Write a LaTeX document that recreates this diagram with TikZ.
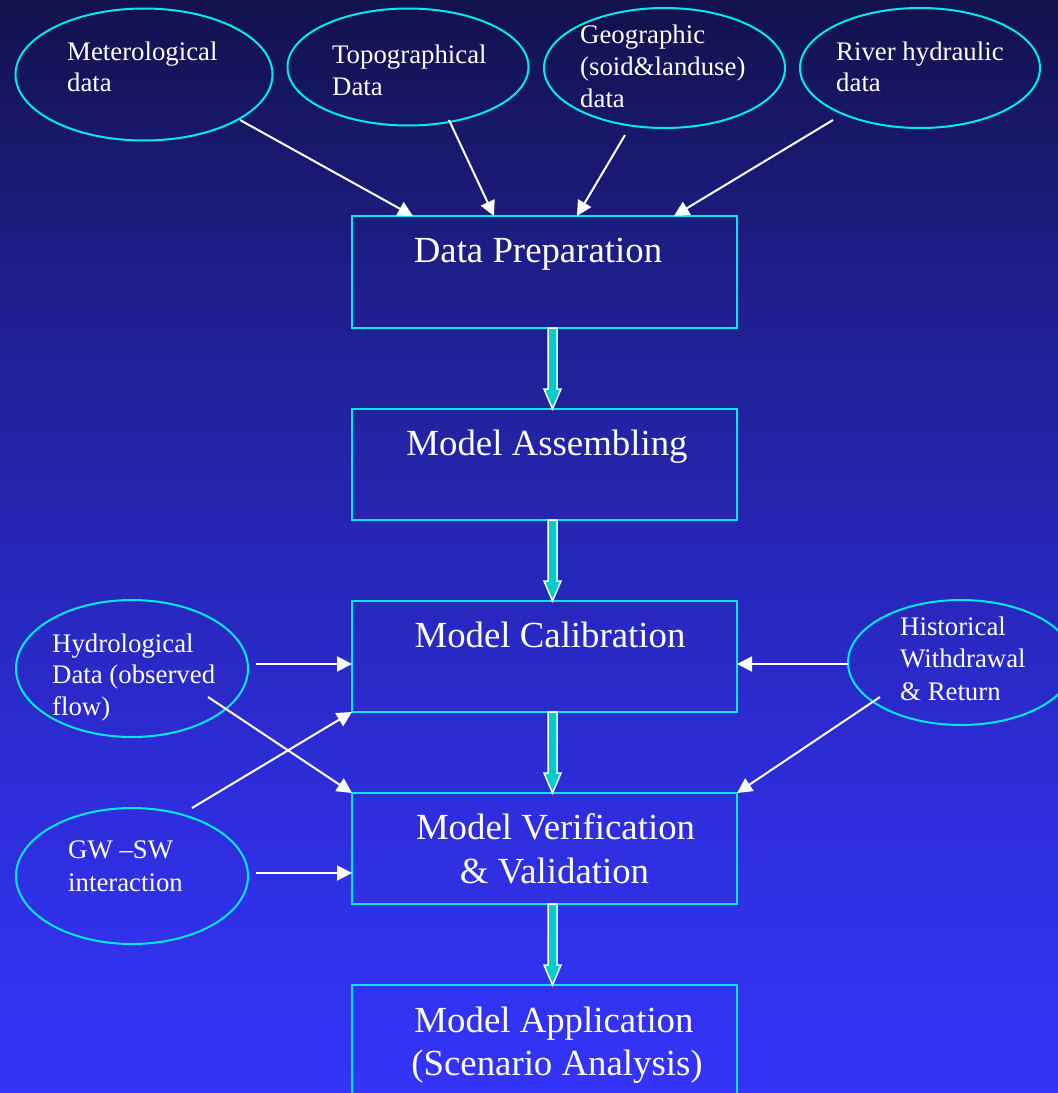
\documentclass[tikz,border=0pt]{standalone}
\usepackage{fontspec}
\setmainfont{Liberation Serif}
\usetikzlibrary{arrows.meta,shapes.geometric}
\definecolor{bgA}{RGB}{18,18,76}
\definecolor{bgB}{RGB}{30,30,138}
\definecolor{bgC}{RGB}{38,38,182}
\definecolor{bgD}{RGB}{46,46,222}
\definecolor{bgE}{RGB}{52,52,250}
\definecolor{cyanline}{RGB}{0,235,240}
\definecolor{tealfill}{RGB}{0,204,204}
\newcommand\fatarr[2]{%
  \draw[fat] ([xshift=3.5pt]#1.south) -- ([xshift=3.5pt,yshift=20pt]#2.north)
    -- ([xshift=-0.5pt,yshift=20pt]#2.north) -- ([xshift=8pt]#2.north)
    -- ([xshift=16.5pt,yshift=20pt]#2.north) -- ([xshift=12.5pt,yshift=20pt]#2.north)
    -- ([xshift=12.5pt]#1.south) -- cycle;}
\begin{document}
\begin{tikzpicture}[x=1pt,y=-1pt,
  ell/.style={ellipse, draw=cyanline, line width=2pt, inner sep=0pt, outer sep=0pt},
  stepbox/.style={rectangle, draw=cyanline, line width=2pt, minimum width=385pt, minimum height=112pt, inner sep=0pt, outer sep=0pt},
  etxt/.style={text=white, inner sep=0pt, anchor=base west, font=\fontsize{26.8}{32}\selectfont},
  btxt/.style={text=white, inner sep=0pt, anchor=base, font=\fontsize{36.8}{44}\selectfont},
  arr/.style={draw=white, line width=2pt, -{Triangle[length=15pt,width=15pt]}},
  fat/.style={fill=tealfill, draw=white, line width=1.5pt, line join=miter}]
\useasboundingbox (0,0) rectangle (1058,1093);
\clip (0,0) rectangle (1058,1093);
% background
\shade[top color=bgA, bottom color=bgB] (0,0) rectangle (1058,273.8);
\shade[top color=bgB, bottom color=bgC] (0,273.2) rectangle (1058,546.8);
\shade[top color=bgC, bottom color=bgD] (0,546.2) rectangle (1058,820.3);
\shade[top color=bgD, bottom color=bgE] (0,819.7) rectangle (1058,1093);
% ellipses
\node[ell, minimum width=257pt, minimum height=132pt] (e1) at (144,74.5) {};
\node[ell, minimum width=241pt, minimum height=117pt] (e2) at (408,67) {};
\node[ell, minimum width=241pt, minimum height=120pt] (e3) at (664.5,68) {};
\node[ell, minimum width=240pt, minimum height=120pt] (e4) at (920,68) {};
\node[ell, minimum width=232pt, minimum height=137pt] (e5) at (132,668.5) {};
\node[ell, minimum width=232pt, minimum height=136pt] (e6) at (132,876) {};
\node[ell, minimum width=226pt, minimum height=125pt] (e7) at (961,662.5) {};
% ellipse texts
\node[etxt] (t1a) at (67,60) {Meterological};
\node[etxt] (t1b) at (67,91.5) {data};
\node[etxt] (t2a) at (332,63) {Topographical};
\node[etxt] (t2b) at (332,95) {Data};
\node[etxt] (t3a) at (580,43) {Geographic};
\node[etxt] (t3b) at (580,75) {(soid\&landuse)};
\node[etxt] (t3c) at (580,107) {data};
\node[etxt] (t4a) at (836,60) {River hydraulic};
\node[etxt] (t4b) at (836,91) {data};
\node[etxt] (t5a) at (52,652) {Hydrological};
\node[etxt] (t5b) at (52,683) {Data (observed};
\node[etxt] (t5c) at (52,715) {flow)};
\node[etxt] (t6a) at (68,858) {GW –SW};
\node[etxt] (t6b) at (68,891) {interaction};
\node[etxt] (t7a) at (900,635) {Historical};
\node[etxt] (t7b) at (900,667) {Withdrawal};
\node[etxt] (t7c) at (900,700) {\& Return};
% boxes
\node[stepbox] (dp) at (544.5,272) {};
\node[stepbox, minimum height=111pt] (ma) at (544.5,464.5) {};
\node[stepbox, minimum height=111pt] (mc) at (544.5,656.5) {};
\node[stepbox, minimum height=111pt] (mv) at (544.5,848.5) {};
\node[stepbox] (app) at (544.5,1041) {};
% box texts
\node[btxt] (dpt) at (538,262) {Data Preparation};
\node[btxt] (mat) at (547,455) {Model Assembling};
\node[btxt] (mct) at (550,647) {Model Calibration};
\node[btxt] (mvt1) at (555.5,839) {Model Verification};
\node[btxt] (mvt2) at (554.5,883) {\& Validation};
\node[btxt] (apt1) at (554,1032) {Model Application};
\node[btxt] (apt2) at (557,1075) {(Scenario Analysis)};
% thin arrows
\draw[arr] ([shift={(96,45.5)}]e1.center) -- ([xshift=61pt]dp.north west);
\draw[arr] ([shift={(41,53)}]e2.center) -- ([xshift=142pt]dp.north west);
\draw[arr] ([shift={(-39.5,67)}]e3.center) -- ([xshift=225pt]dp.north west);
\draw[arr] ([shift={(-87,52)}]e4.center) -- ([xshift=322pt]dp.north west);
\draw[arr] ([shift={(124,-4.5)}]e5.center) -- ([yshift=-7.5pt]mc.west);
\draw[arr] ([shift={(76,28.5)}]e5.center) -- (mv.north west);
\draw[arr] ([shift={(60,-68)}]e6.center) -- (mc.south west);
\draw[arr] ([shift={(124,-3)}]e6.center) -- ([yshift=-24.5pt]mv.west);
\draw[arr] ([shift={(-113,1.5)}]e7.center) -- ([yshift=-7.5pt]mc.east);
\draw[arr] ([shift={(-81,34.5)}]e7.center) -- (mv.north east);
% fat arrows
\fatarr{dp}{ma}
\fatarr{ma}{mc}
\fatarr{mc}{mv}
\fatarr{mv}{app}
\end{tikzpicture}
\end{document}
